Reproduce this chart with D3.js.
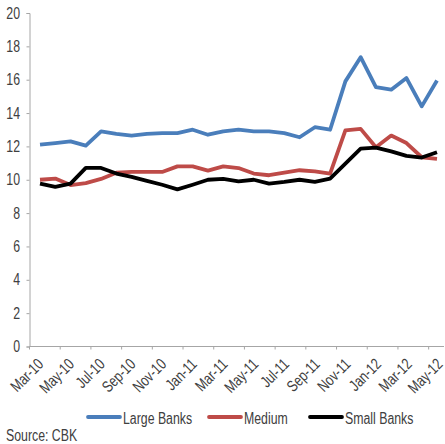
<!DOCTYPE html>
<html>
<head>
<meta charset="utf-8">
<script src="https://cdn.jsdelivr.net/npm/d3@7"></script>
<style>
  body { margin: 0; background: #fff; }
  svg text { font-family: "Liberation Sans", Arial, sans-serif; fill: #404040; font-size: 16px; }
</style>
</head>
<body>
<div id="chart"></div>
<script>
// months on the category axis
const months = ["Mar-10","Apr-10","May-10","Jun-10","Jul-10","Aug-10","Sep-10","Oct-10","Nov-10","Dec-10",
  "Jan-11","Feb-11","Mar-11","Apr-11","May-11","Jun-11","Jul-11","Aug-11","Sep-11","Oct-11","Nov-11","Dec-11",
  "Jan-12","Feb-12","Mar-12","Apr-12","May-12"];

// series values
const largeBanks = [12.1,12.2,12.3,12.05,12.9,12.75,12.65,12.75,12.8,12.8,13.0,12.7,12.9,13.0,12.9,12.9,12.8,12.55,
  13.15,13.0,15.9,17.35,15.55,15.4,16.1,14.4,15.95];
const medium = [10.0,10.07,9.68,9.8,10.05,10.42,10.47,10.47,10.47,10.8,10.8,10.55,10.8,10.7,10.37,10.27,10.42,10.57,
  10.5,10.37,12.96,13.05,11.95,12.65,12.2,11.35,11.25];
const smallBanks = [9.77,9.57,9.77,10.71,10.71,10.37,10.17,9.93,9.7,9.42,9.7,10.0,10.05,9.9,10.0,9.77,9.87,10.0,
  9.87,10.07,10.97,11.87,11.93,11.7,11.43,11.33,11.65];

const yTicks = [0,2,4,6,8,10,12,14,16,18,20];

const series = [
  {name: "Large Banks", values: largeBanks, color: "#4a7ebb"},
  {name: "Medium", values: medium, color: "#be4b48"},
  {name: "Small Banks", values: smallBanks, color: "#000000"}
];

const width = 445, height = 444;
const narrow = 0.77; // squeeze text to look like a condensed face

const svg = d3.select("#chart").append("svg")
  .attr("width", width)
  .attr("height", height);

// scales
var y = d3.scaleLinear().domain([0, 20]).range([346.5, 13]);
var xBand = d3.scaleBand().domain(months).range([29.5, 444]).padding(0);
var x = d3.scalePoint().domain(months).range([40, 437]);

// Y axis
const yAxis = svg.append("g")
  .attr("transform", "translate(29.5,0)")
  .call(d3.axisLeft(y).tickValues(yTicks).tickSize(3).tickPadding(0).tickFormat(d3.format("d")));
yAxis.select(".domain").attr("stroke", "#a6a6a6");
yAxis.selectAll(".tick line").attr("stroke", "#a6a6a6");
yAxis.selectAll("text")
  .attr("x", -9.5 / narrow)
  .attr("transform", "scale(" + narrow + ",1)")
  .attr("fill", "#404040")
  .style("font-size", "16px");

// X axis: ticks between every second category
const xAxisG = svg.append("g").attr("transform", "translate(0," + y(0) + ")");
xAxisG.append("line")
  .attr("x1", xBand.range()[0]).attr("x2", xBand.range()[1])
  .attr("stroke", "#a6a6a6");
xAxisG.selectAll(".xtick")
  .data(months.filter((d, i) => i % 2 === 0))
  .enter().append("line")
  .attr("class", "xtick")
  .attr("x1", d => xBand(d)).attr("x2", d => xBand(d))
  .attr("y1", 0).attr("y2", 3)
  .attr("stroke", "#a6a6a6");
xAxisG.selectAll(".xlabel")
  .data(months.filter((d, i) => i % 2 === 0))
  .enter().append("text")
  .attr("class", "xlabel")
  .attr("transform", d => "translate(" + (xBand(d) + xBand.bandwidth() / 2 - 1) + ",10.5)rotate(-45)scale(" + narrow + ",1)")
  .attr("text-anchor", "end")
  .attr("dy", "0.73em")
  .text(d => d);

// lines
const line = d3.line()
  .x((d, i) => x(months[i]))
  .y(d => y(d));

svg.selectAll(".series")
  .data(series)
  .enter().append("path")
  .attr("class", "series")
  .attr("d", d => line(d.values))
  .attr("fill", "none")
  .attr("stroke", d => d.color)
  .attr("stroke-width", 3.8)
  .attr("stroke-linejoin", "round");

// legend
const legendX = [88, 209, 310];
const legend = svg.selectAll(".legend")
  .data(series)
  .enter().append("g")
  .attr("class", "legend")
  .attr("transform", (d, i) => "translate(" + legendX[i] + ",417)");
legend.append("line")
  .attr("x1", 0).attr("x2", 32)
  .attr("stroke", d => d.color)
  .attr("stroke-width", 3.8)
  .attr("stroke-linecap", "round");
legend.append("text")
  .attr("transform", "translate(35,6.5)scale(" + narrow + ",1)")
  .text(d => d.name);

svg.append("text")
  .attr("transform", "translate(6,441)scale(" + narrow + ",1)")
  .text("Source: CBK");
</script>
</body>
</html>
